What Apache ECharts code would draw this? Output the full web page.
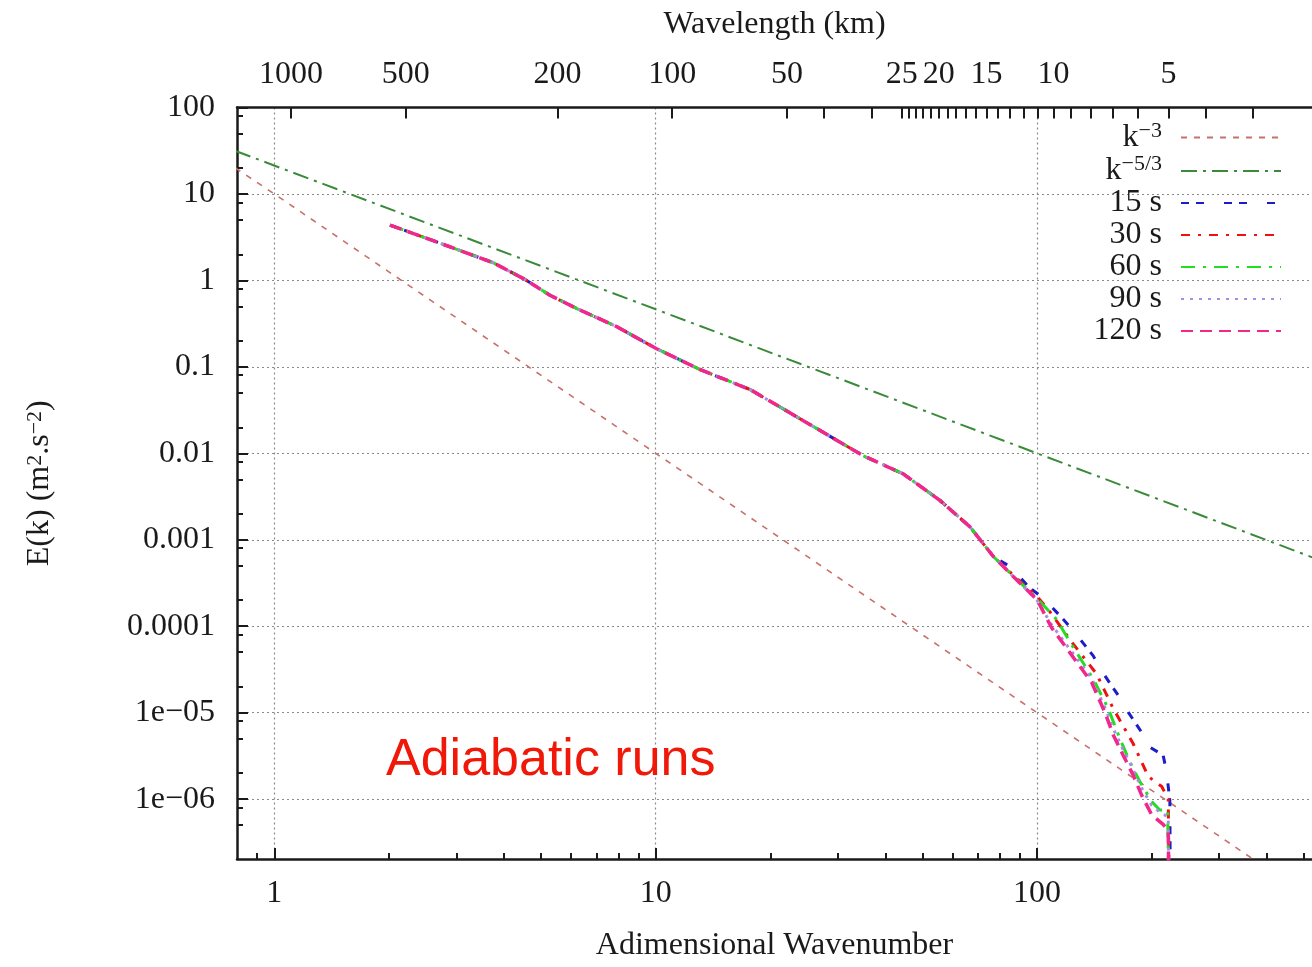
<!DOCTYPE html>
<html>
<head>
<meta charset="utf-8">
<title>Adiabatic runs - energy spectra</title>
<script src="https://cdn.jsdelivr.net/npm/echarts@6/dist/echarts.min.js"></script>
<style>
  html, body { margin: 0; padding: 0; background: #fff; overflow: hidden; }
  #chart { width: 1312px; height: 967px; }
</style>
</head>
<body>
<div id="chart"></div>
<script>
// axis ranges
const K_MIN = 0.798, K_MAX = 526;
const E_MIN = 2.03e-7, E_MAX = 100;
const DOMAIN_KM = 1105; // wavelength = DOMAIN_KM / k

const X_MAJOR = [1, 10, 100];
const X_MINOR = [0.9, 2, 3, 4, 5, 6, 7, 8, 9, 20, 30, 40, 50, 60, 70, 80, 90, 200, 300, 400, 500];
const Y_MAJOR = [1e-6, 1e-5, 1e-4, 1e-3, 0.01, 0.1, 1, 10, 100];
const Y_LABELS = ['1e\u221206', '1e\u221205', '0.0001', '0.001', '0.01', '0.1', '1', '10', '100'];
const Y_MINOR = [5e-7, 8e-7, 2e-6, 5e-6, 8e-6, 2e-5, 5e-5, 8e-5, 2e-4, 5e-4, 8e-4,
  2e-3, 5e-3, 8e-3, 0.02, 0.05, 0.08, 0.2, 0.5, 0.8, 2, 5, 8, 20, 50, 80];
const WL_LABELS = [1000, 500, 200, 100, 50, 25, 20, 15, 10, 5];
const WL_TICKS = [1000, 500, 200, 100, 50, 40, 30, 25, 24, 23, 22, 21, 20, 19, 18, 17, 16, 15,
  14, 13, 12, 11, 10, 9, 8, 7, 6, 5, 4, 3];

// reference slopes
const K3_LINE = [[0.79, 20], [1, 10], [10, 0.01], [100, 1e-5], [370, 2e-7]];
const K53_LINE = [[0.79, 31.5], [10, 0.464], [100, 0.01], [530, 6.2e-4]];

// spectra: all runs overlap up to k ~ 77
const HEAD = [[2.01, 4.36], [2.61, 2.88], [3.75, 1.60], [4.50, 1.05], [5.28, 0.673], [6.21, 0.473],
  [7.90, 0.292], [10, 0.164], [13.1, 0.0926], [17.7, 0.0546], [24.9, 0.0226], [35.0, 0.00938],
  [44.6, 0.00577], [55.6, 0.00286], [66.7, 0.00141], [76.8, 6.4e-4]];
const S15_TAIL = [[84.9, 4.9e-4], [95.8, 2.76e-4], [103.8, 2.12e-4], [117.2, 1.2e-4], [125.7, 8.4e-5],
  [140.4, 4.54e-5], [147.6, 3.05e-5], [163.3, 1.58e-5], [169.9, 1.16e-5], [187.9, 5.97e-6],
  [193.8, 4.2e-6], [214.1, 3.22e-6], [218.6, 2.07e-6], [223, 9.5e-7], [224, 1e-8]];
const S30_TAIL = [[86.6, 3.9e-4], [100, 2.2e-4], [107, 1.56e-4], [124.5, 6.2e-5], [143.3, 2.8e-5],
  [158.5, 1.11e-5], [178.6, 4.4e-6], [195.9, 1.82e-6], [212.3, 1.4e-6], [220.8, 1.0e-6], [223, 1e-8]];
const S60_TAIL = [[86.6, 3.8e-4], [100, 2.1e-4], [112.5, 1.2e-4], [121.9, 6.6e-5], [140.4, 2.45e-5],
  [153.8, 1.11e-5], [164.9, 5.0e-6], [175.1, 2.7e-6], [186, 1.6e-6], [199.7, 9.4e-7],
  [209.8, 7.5e-7], [220, 7.5e-7], [223, 1e-8]];
const S90_TAIL = [[86.6, 3.76e-4], [100, 2.0e-4], [109, 1.05e-4], [122, 5.4e-5], [139, 2.5e-5],
  [150.6, 1.15e-5], [158.5, 6.5e-6], [168.3, 3.7e-6], [178.6, 2.2e-6], [187.9, 1.35e-6],
  [199.7, 8.5e-7], [212, 6.8e-7], [220.8, 6.3e-7], [223, 1e-8]];
const S120_TAIL = [[86.6, 3.76e-4], [100, 2.03e-4], [109.2, 9.6e-5], [121.9, 4.95e-5], [139, 2.24e-5],
  [150.6, 1.01e-5], [158.5, 5.5e-6], [168.3, 3.2e-6], [178.6, 1.9e-6], [187.9, 1.12e-6],
  [199.7, 6.6e-7], [214.1, 5.1e-7], [220.8, 4.3e-7], [223, 1e-8]];

const SERIF = "'Liberation Serif', 'DejaVu Serif', serif";
const INK = '#1a1a1a';
const gridLine = { show: true, lineStyle: { color: '#8a8a8a', width: 1.2, type: [2, 3] } };
const border = { show: true, lineStyle: { color: INK, width: 2.5 } };
const labelFont = { fontFamily: SERIF, fontSize: 32, color: INK };

function line(name, data, color, width, dash) {
  return {
    name: name, type: 'line', data: data, showSymbol: false, symbol: 'none',
    lineStyle: { color: color, width: width, type: dash },
    itemStyle: { color: color }, clip: true, z: 3
  };
}

const chart = echarts.init(document.getElementById('chart'), null, { renderer: 'canvas' });

const option = {
  animation: false,
  backgroundColor: '#fff',
  title: {
    text: 'Adiabatic runs', left: 386, top: 735, padding: 0,
    textStyle: { fontFamily: "'Liberation Sans', Arial, sans-serif", fontSize: 52, fontWeight: 'normal', color: '#f01808' }
  },
  grid: { left: 237, right: 0, top: 107.5, height: 757 },
  legend: {
    orient: 'vertical', right: 30, top: 120, padding: 0, itemGap: 0,
    itemWidth: 100, itemHeight: 14, align: 'right',
    itemStyle: { opacity: 0 },
    textStyle: {
      fontFamily: SERIF, fontSize: 32, color: INK, padding: [0, 14, 0, 0],
      rich: {
        b: { fontFamily: SERIF, fontSize: 32, lineHeight: 35, color: INK },
        s: { fontFamily: SERIF, fontSize: 22, lineHeight: 2, verticalAlign: 'top', color: INK }
      }
    },
    formatter: function (n) {
      if (n === 'k-3') return '{b|k}{s|\u22123}';
      if (n === 'k-5/3') return '{b|k}{s|\u22125/3}';
      return '{b|' + n + '}';
    },
    data: ['k-3', 'k-5/3', '15 s', '30 s', '60 s', '90 s', '120 s']
  },
  xAxis: [
    {
      type: 'log', logBase: 10, min: K_MIN, max: K_MAX, position: 'bottom',
      axisLine: border,
      axisTick: { inside: true, length: 11, customValues: X_MAJOR, lineStyle: { color: INK, width: 2 } },
      axisLabel: Object.assign({ customValues: X_MAJOR, margin: 19 }, labelFont),
      splitLine: gridLine, minorTick: { show: false },
      name: 'Adimensional Wavenumber', nameLocation: 'middle', nameGap: 71,
      nameTextStyle: { fontFamily: SERIF, fontSize: 32, color: INK }
    },
    {
      type: 'log', logBase: 10, min: K_MIN, max: K_MAX, position: 'top',
      axisLine: border,
      axisTick: { inside: true, length: 11, customValues: WL_TICKS.map(w => DOMAIN_KM / w), lineStyle: { color: INK, width: 2 } },
      axisLabel: Object.assign({
        customValues: WL_LABELS.map(w => DOMAIN_KM / w), margin: 17,
        formatter: v => String(Math.round(DOMAIN_KM / v))
      }, labelFont),
      splitLine: { show: false },
      name: 'Wavelength (km)', nameLocation: 'middle', nameGap: 67,
      nameTextStyle: { fontFamily: SERIF, fontSize: 32, color: INK }
    },
    {
      type: 'log', logBase: 10, min: K_MIN, max: K_MAX, position: 'bottom',
      axisLine: { show: false },
      axisTick: { inside: true, length: 6, customValues: X_MINOR, lineStyle: { color: INK, width: 2 } },
      axisLabel: { show: false }, splitLine: { show: false }
    }
  ],
  yAxis: [
    {
      type: 'log', logBase: 10, min: E_MIN, max: E_MAX, position: 'left',
      axisLine: border,
      axisTick: { inside: true, length: 11, customValues: Y_MAJOR, lineStyle: { color: INK, width: 2 } },
      axisLabel: Object.assign({
        customValues: Y_MAJOR, margin: 22,
        formatter: v => Y_LABELS[Y_MAJOR.indexOf(v)]
      }, labelFont),
      splitLine: gridLine,
      name: 'E(k) (m{s|2}.s{s|\u22122})', nameLocation: 'middle', nameRotate: 90, nameGap: 181,
      nameTextStyle: {
        fontFamily: SERIF, fontSize: 32, color: INK,
        rich: {
          s: { fontFamily: SERIF, fontSize: 22, lineHeight: 4, verticalAlign: 'top', color: INK }
        }
      }
    },
    {
      type: 'log', logBase: 10, min: E_MIN, max: E_MAX, position: 'left',
      axisLine: { show: false },
      axisTick: { inside: true, length: 6, customValues: Y_MINOR, lineStyle: { color: INK, width: 2 } },
      axisLabel: { show: false }, splitLine: { show: false }
    }
  ],
  series: [
    line('k-3', K3_LINE, '#c8706a', 1.6, [6, 7]),
    line('k-5/3', K53_LINE, '#3a8a3a', 2, [16, 6, 3, 6]),
    line('15 s', HEAD.concat(S15_TAIL), '#1c1cc8', 3, [8, 7, 8, 20]),
    line('30 s', HEAD.concat(S30_TAIL), '#ee1111', 3, [9, 8, 3, 8]),
    line('60 s', HEAD.concat(S60_TAIL), '#22dd22', 3, [14, 8, 3, 8]),
    line('90 s', HEAD.concat(S90_TAIL), '#a88ce8', 3, [3, 6]),
    line('120 s', HEAD.concat(S120_TAIL), '#f0288c', 3.5, [12, 7])
  ]
};

chart.setOption(option);
</script>
</body>
</html>
